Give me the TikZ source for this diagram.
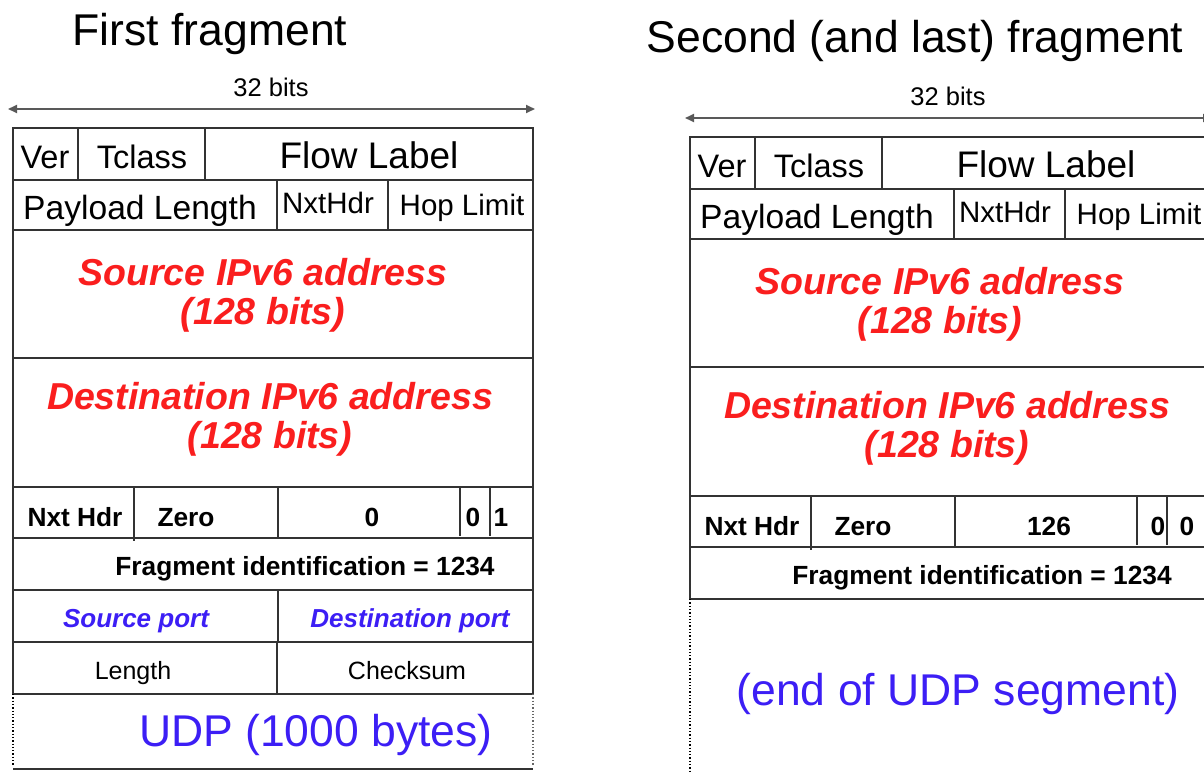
\documentclass[tikz,border=0pt]{standalone}
\usepackage{fontspec}
\setmainfont{Liberation Sans}
\usetikzlibrary{arrows.meta}
\definecolor{addrred}{RGB}{250,30,30}
\definecolor{udpblue}{RGB}{60,30,245}
\newcommand\fsz[1]{\fontsize{#1}{#1}\selectfont}
\newcommand\ipvhdr[5]{%
  % #1 title, #2 title baseline, #3 title x, #4 frag offset, #5 reserved-bit position
  \node[txt,font=\fsz{44.5}] (title) at (#3,#2) {#1};
  \coordinate (aL) at (8,109);
  \coordinate (aR) at (535,109);
  \draw[dim] (aL) -- (aR);
  \node[txt,font=\fsz{25.5}] (bits) at (271,96) {32 bits};
  % frame
  \draw[cell] (13,128) -- (533,128);
  \foreach \yy in {180,230,358,487,538,590} \draw[cell] (13,\yy) -- (533,\yy);
  \draw[cell] (13,127) -- (13,590);
  \draw[cell] (533,127) -- (533,590);
  % row 1
  \draw[cell] (78,128) -- (78,180);
  \draw[cell] (205,128) -- (205,180);
  \node[txt,font=\fsz{32.5}] (ver) at (45,168) {Ver};
  \node[txt,font=\fsz{32.5}] (tclass) at (142,168) {Tclass};
  \node[txt,font=\fsz{37}] (flow) at (369,168) {Flow Label};
  % row 2
  \draw[cell] (277,180) -- (277,230);
  \draw[cell] (388,180) -- (388,230);
  \node[txt,font=\fsz{33.6}] (plen) at (140,219) {Payload Length};
  \node[txt,font=\fsz{29.5}] (nxt) at (328,213) {NxtHdr};
  \node[txt,font=\fsz{29.5}] (hop) at (462,215) {Hop Limit};
  % addresses
  \node[txt,redtxt] (src1) at (263,285) {Source IPv6 address};
  \node[txt,redtxt] (src2) at (263,324) {(128 bits)};
  \node[txt,redtxt] (dst1) at (270,409) {Destination IPv6 address};
  \node[txt,redtxt] (dst2) at (270,448) {(128 bits)};
  % fragment header
  \draw[cell] (134,487) -- (134,541);
  \draw[cell] (278,487) -- (278,538);
  \draw[cell] (460,487) -- (460,536);
  \draw[cell] (490,487) -- (490,536);
  \node[txt,bold] (fnh) at (75,526) {Nxt Hdr};
  \node[txt,bold] (fzero) at (186,526) {Zero};
  \node[txt,bold] (foff) at (372,526) {#4};
  \node[txt,bold] (fres) at (#5) {0};
}
\begin{document}
\begin{tikzpicture}[x=1pt,y=-1pt,
  txt/.style={anchor=base,inner sep=0pt},
  cell/.style={line width=1.8pt,draw=black!80},
  dim/.style={line width=1.8pt,draw=black!65,{Triangle[length=9pt,width=8pt]}-{Triangle[length=9pt,width=8pt]}},
  redtxt/.style={font=\fsz{37.5}\bfseries\itshape,text=addrred},
  bold/.style={font=\fsz{26.3}\bfseries},
  bluetxt/.style={font=\fsz{26}\bfseries\itshape,text=udpblue},
  plain/.style={font=\fsz{25}},
  big/.style={font=\fsz{44.5},text=udpblue},
  dots/.style={line width=1.3pt,draw=black!60,dotted}]
\useasboundingbox (0,0) rectangle (1204,772);
\clip (0,0) rectangle (1204,772);
\fill[white] (0,0) rectangle (1204,772);
% ---------- first fragment ----------
\begin{scope}[name prefix=A-]
  \ipvhdr{First fragment}{45}{210}{0}{473,526}
  \node[txt,bold] (fmf) at (501,526) {1};
  \node[txt,bold] (fid) at (305,575) {Fragment identification = 1234};
  % UDP header
  \draw[cell] (13,590) -- (13,694);
  \draw[cell] (533,590) -- (533,694);
  \draw[cell] (13,642) -- (533,642);
  \draw[cell] (13,694) -- (533,694);
  \draw[cell] (278,590) -- (278,642);
  \draw[cell] (277,642) -- (277,694);
  \node[txt,bluetxt] (sp) at (136,627) {Source port};
  \node[txt,bluetxt] (dp) at (410,627) {Destination port};
  \node[txt,plain] (len) at (133,679) {Length};
  \node[txt,plain] (cks) at (407,679) {Checksum};
  \draw[dots,draw=black] (13,694) -- (13,766);
  \draw[dots] (533,694) -- (533,766);
  \draw[cell] (13,769) -- (533,769);
  \node[txt,big] (udp) at (316,746) {UDP (1000 bytes)};
\end{scope}
% ---------- second fragment ----------
\begin{scope}[shift={(677,9)},name prefix=B-]
  \ipvhdr{Second (and last) fragment}{43}{238}{126}{481,526}
  \node[txt,bold] (fmf) at (510,526) {0};
  \node[txt,bold] (fid) at (305,575) {Fragment identification = 1234};
  \draw[dots,draw=black] (13,590) -- (13,770);
  \node[txt,big] (udpend) at (281,696) {(end of UDP segment)};
\end{scope}
\end{tikzpicture}
\end{document}
